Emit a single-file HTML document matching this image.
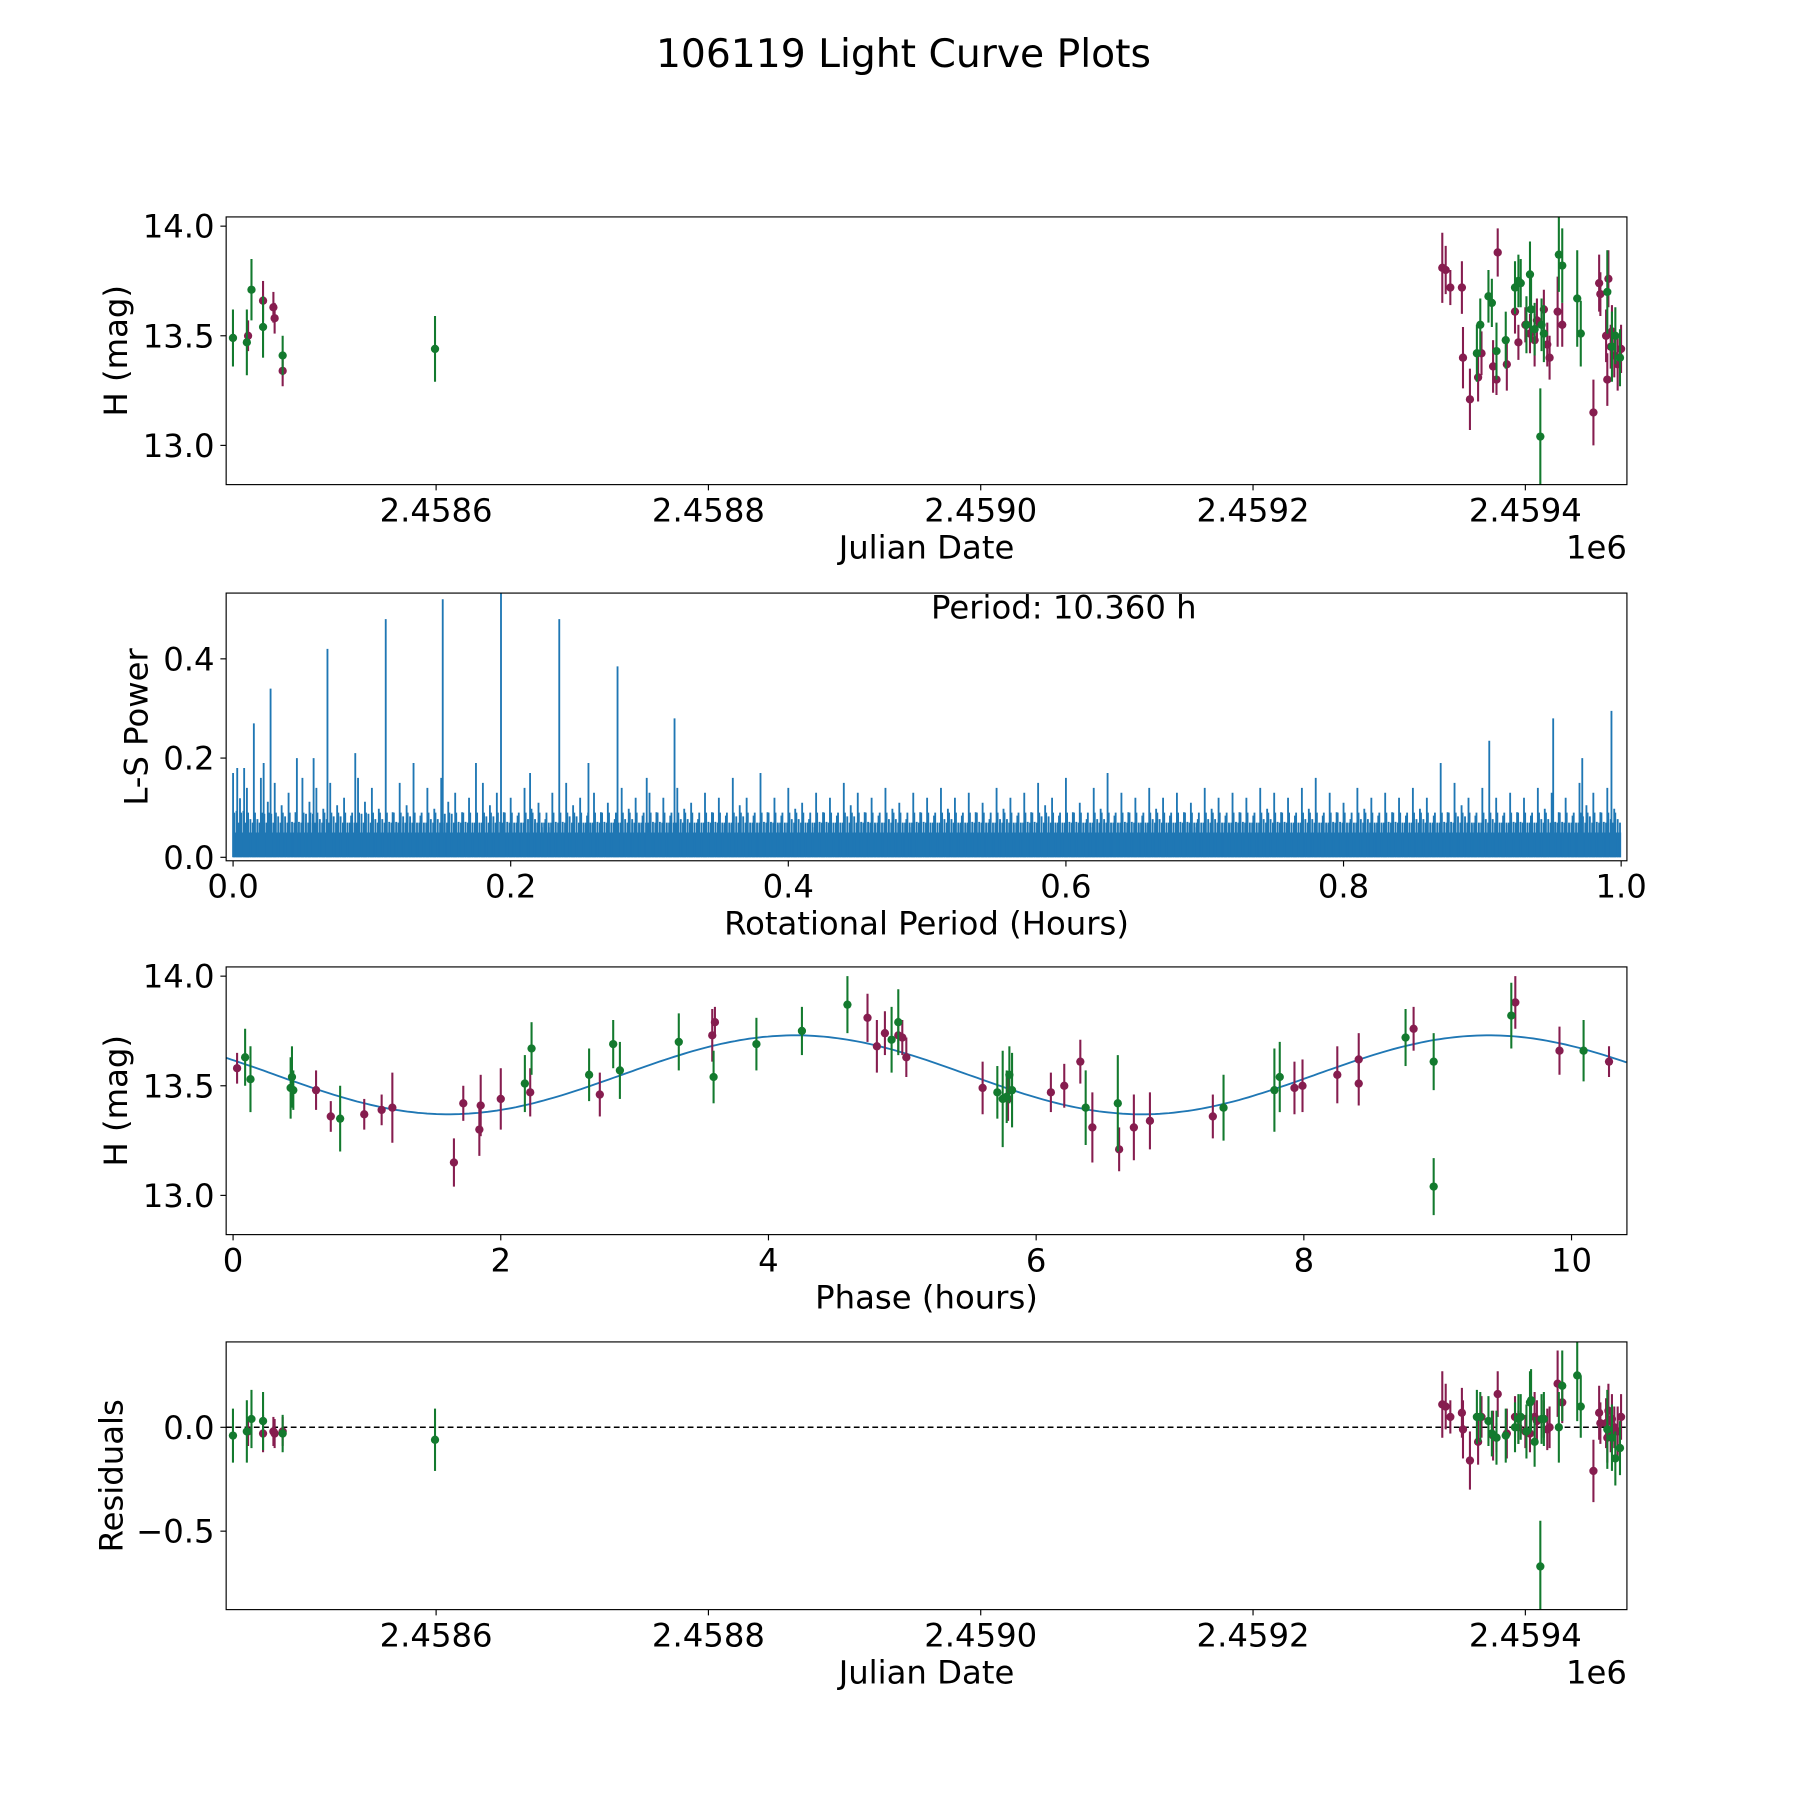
<!DOCTYPE html>
<html><head><meta charset="utf-8"><style>
html,body{margin:0;padding:0;background:#fff}
svg{display:block;font-family:"DejaVu Sans","Liberation Sans",sans-serif}
</style></head><body>
<svg id="c" width="1800" height="1800" viewBox="0 0 1560 1560" xmlns="http://www.w3.org/2000/svg">
<text x="783" y="58" font-size="34" text-anchor="middle">106119 Light Curve Plots</text>
</svg>
<script>
// ---- data (JD offsets from 2458000) ----
const jdPurple=[461.9,472.9,480.5,481.4,487.3,1339,1341.5,1344.9,1353.4,1354.2,1359.3,1365.3,1367.8,1376.3,1378.8,1379.7,1386.4,1392.4,1394.9,1400,1403.4,1406.8,1408.5,1413.6,1416.1,1417.8,1423.7,1427.1,1450,1454.2,1455.1,1459.3,1460.2,1461,1462.7,1463.6,1465.3,1467.8,1470.3];
const magPurple=[13.50,13.66,13.63,13.58,13.34,13.81,13.80,13.72,13.72,13.40,13.21,13.31,13.42,13.36,13.30,13.88,13.37,13.61,13.47,13.55,13.51,13.48,13.57,13.62,13.46,13.40,13.61,13.55,13.15,13.74,13.69,13.50,13.30,13.76,13.45,13.52,13.41,13.37,13.44];
const resPurple=[-0.02,-0.03,-0.02,-0.03,-0.02,0.11,0.10,0.05,0.07,-0.01,-0.16,-0.07,0.05,-0.04,-0.05,0.16,-0.03,0.05,0.00,-0.02,-0.03,0.05,0.03,0.04,-0.01,0.00,0.21,0.12,-0.21,0.07,0.02,0.02,-0.05,0.08,-0.02,0.04,0.00,-0.02,0.05];
const errPurple=[0.07,0.09,0.07,0.07,0.07,0.16,0.11,0.08,0.12,0.14,0.14,0.11,0.10,0.12,0.07,0.11,0.12,0.10,0.08,0.08,0.09,0.12,0.10,0.09,0.10,0.10,0.16,0.10,0.15,0.13,0.10,0.12,0.12,0.13,0.10,0.12,0.10,0.12,0.11];
const jdGreen=[450.8,461.0,464.4,472.9,487.3,599.2,1364.4,1366.9,1372.9,1375.4,1378.8,1385.6,1392.4,1394.9,1396.6,1400.8,1403.4,1404.2,1406.8,1411,1411.9,1413.6,1424.6,1427.1,1438.1,1440.7,1460.2,1463.6,1466.1,1469.5];
const magGreen=[13.49,13.47,13.71,13.54,13.41,13.44,13.42,13.55,13.68,13.65,13.43,13.48,13.72,13.75,13.74,13.55,13.78,13.62,13.53,13.04,13.55,13.51,13.87,13.82,13.67,13.51,13.70,13.45,13.50,13.40];
const resGreen=[-0.04,-0.02,0.04,0.03,-0.03,-0.06,0.05,0.05,0.03,-0.03,-0.05,-0.04,0.00,0.04,0.05,-0.02,0.12,0.13,-0.07,-0.67,0.04,0.04,0.00,0.20,0.25,0.10,-0.01,-0.05,-0.15,-0.10];
const errGreen=[0.13,0.15,0.14,0.14,0.09,0.15,0.13,0.12,0.12,0.11,0.13,0.13,0.12,0.12,0.11,0.13,0.15,0.15,0.12,0.22,0.12,0.13,0.17,0.17,0.22,0.15,0.19,0.16,0.13,0.13];
// phase-folded
const phPurple=[0.03,0.62,0.73,0.98,1.11,1.19,1.65,1.72,1.84,1.85,2.00,2.22,2.74,3.58,3.60,4.74,4.81,4.87,4.97,5.00,5.03,5.60,5.79,6.11,6.21,6.33,6.42,6.62,6.73,6.85,7.32,7.93,7.99,8.25,8.41,8.41,8.82,9.58,9.91,10.28];
const phMagPurple=[13.58,13.48,13.36,13.37,13.39,13.40,13.15,13.42,13.30,13.41,13.44,13.47,13.46,13.73,13.79,13.81,13.68,13.74,13.73,13.72,13.63,13.49,13.44,13.47,13.50,13.61,13.31,13.21,13.31,13.34,13.36,13.49,13.50,13.55,13.51,13.62,13.76,13.88,13.66,13.61];
const phGreen=[0.09,0.13,0.43,0.44,0.45,0.80,2.18,2.23,2.66,2.84,2.89,3.33,3.59,3.91,4.25,4.59,4.92,4.97,5.71,5.75,5.78,5.80,5.82,6.37,6.61,7.40,7.78,7.82,8.76,8.97,8.97,9.55,10.09];
const phMagGreen=[13.63,13.53,13.49,13.54,13.48,13.35,13.51,13.67,13.55,13.69,13.57,13.70,13.54,13.69,13.75,13.87,13.71,13.79,13.47,13.44,13.45,13.55,13.48,13.40,13.42,13.40,13.48,13.54,13.72,13.61,13.04,13.82,13.66];
// periodogram
const peakPeriod=[0.003,0.008,0.015,0.022,0.027,0.046,0.058,0.068,0.088,0.11,0.13,0.151,0.175,0.193,0.214,0.235,0.256,0.277,0.298,0.318,0.36,0.38,0.6,0.63,0.78,0.87,0.905,0.951,0.972,0.993];
const peakPower=[0.18,0.18,0.27,0.19,0.34,0.2,0.2,0.42,0.21,0.48,0.19,0.52,0.19,0.54,0.17,0.48,0.19,0.385,0.16,0.28,0.16,0.17,0.16,0.17,0.16,0.19,0.235,0.28,0.2,0.295];
const bgPower=[0.17,0.14,0.16,0.15,0.13,0.16,0.14,0.15,0.12,0.16,0.14,0.13,0.15,0.12,0.14,0.16,0.13,0.12,0.15,0.13,0.12,0.14,0.11,0.13,0.15,0.12,0.13,0.11,0.14,0.12,0.13,0.12,0.14,0.11,0.13,0.12,0.15,0.12,0.13,0.12,0.14,0.11,0.13,0.12,0.15,0.13,0.12,0.14,0.11,0.13,0.12,0.14,0.12,0.13,0.11,0.14,0.12,0.13,0.15,0.12,0.13,0.11,0.14,0.12,0.13,0.12,0.14,0.12,0.13,0.11,0.14,0.12,0.13,0.12,0.14,0.13,0.12,0.14,0.12,0.13,0.11,0.14,0.12,0.13,0.12,0.14,0.12,0.13,0.15,0.12,0.14,0.12,0.13,0.12,0.14,0.13,0.12,0.15,0.13,0.14];
const jdTicks=[600,800,1000,1200,1400];
const jdTickLabels=["2.4586","2.4588","2.4590","2.4592","2.4594"];
const magTicks=[13.0,13.5,14.0];
const magTickLabels=["13.0","13.5","14.0"];
const powTicks=[0,0.2,0.4];
const powTickLabels=["0.0","0.2","0.4"];
const perTicks=[0,0.2,0.4,0.6,0.8,1.0];
const perTickLabels=["0.0","0.2","0.4","0.6","0.8","1.0"];
const phTicks=[0,2,4,6,8,10];
const phTickLabels=["0","2","4","6","8","10"];
const resTicks=[-0.5,0.0];
const resTickLabels=["\u22120.5","0.0"];
const modelMean=13.55, modelAmp=0.18, modelPeriod=5.18, modelPeak=4.2;

const NS="http://www.w3.org/2000/svg";
const svg=document.getElementById('c');
const PUR="#861d4f", GRN="#137a2e", BLU="#1f77b4";
const L=196,R=1410,FS=28;
function mk(tag,attrs,parent){const e=document.createElementNS(NS,tag);for(const k in attrs)e.setAttribute(k,attrs[k]);(parent||svg).appendChild(e);return e;}
function lin(d0,d1,r0,r1){return v=>r0+(v-d0)*(r1-r0)/(d1-d0);}
function axes(top,bot,sx,sy,xt,xl,yt,yl,xlabel,ylabel,name){
  const g=mk('g',{});
  
  
  xt.forEach((t,i)=>{const x=sx(t);mk('line',{x1:x,x2:x,y1:bot,y2:bot+5,stroke:'#000','stroke-width':1},g);
    const tx=mk('text',{x:x,y:bot+32,'font-size':FS,'text-anchor':'middle'},g);tx.textContent=xl[i];
    
    });
  yt.forEach((t,i)=>{const y=sy(t);mk('line',{x1:L-5,x2:L,y1:y,y2:y,stroke:'#000','stroke-width':1},g);
    const tx=mk('text',{x:L-10,y:y+10,'font-size':FS,'text-anchor':'end'},g);tx.textContent=yl[i];
    
    });
  const xa=mk('text',{x:(L+R)/2,y:bot+64,'font-size':FS,'text-anchor':'middle'},g);xa.textContent=xlabel;
  
  
  const cy=(top+bot)/2;
  const ya=mk('text',{x:0,y:0,'font-size':FS,'text-anchor':'middle',transform:`translate(${ylabel.x},${cy}) rotate(-90)`},g);ya.textContent=ylabel.t;
  
  
  return g;
}
function frame(top,bot){const r=mk('rect',{x:L,y:top,width:R-L,height:bot-top,fill:'none',stroke:'#000','stroke-width':1});
  
  }
function clip(id,top,bot){const d=mk('clipPath',{id:id});mk('rect',{x:L,y:top,width:R-L,height:bot-top},d);}
function errPts(xs,ys,es,sx,sy,col,cp,name){
  const g=mk('g',{'clip-path':`url(#${cp})`});
  
  
  xs.forEach((v,i)=>{const x=sx(v),y=sy(ys[i]),e=es[i%es.length];
    mk('line',{x1:x,x2:x,y1:sy(ys[i]-e),y2:sy(ys[i]+e),stroke:col,'stroke-width':1.8},g);
    const c=mk('circle',{cx:x,cy:y,r:3.6,fill:col},g);
    
    });
}
// Panel 1
{const t=188,b=420,sx=lin(445.8,1474.6,L,R),sy=lin(14.0,13.5,196,291);
 clip('cp1',t,b);
 errPts(jdPurple,magPurple,errPurple,sx,sy,PUR,'cp1','purple-observations');
 errPts(jdGreen,magGreen,errGreen,sx,sy,GRN,'cp1','green-observations');
 frame(t,b);axes(t,b,sx,sy,jdTicks,jdTickLabels,magTicks,magTickLabels,'Julian Date',{x:110,t:'H (mag)'},'light-curve');
 const o=mk('text',{x:R,y:b+64,'font-size':FS,'text-anchor':'end'});o.textContent='1e6';
 
 }
// Panel 2
{const t=514,b=746,sx=lin(0,1,202,1405),sy=lin(0,0.2,743,657);
 clip('cp2',t,b);
 const g=mk('g',{'clip-path':'url(#cp2)'});
 
 
 mk('rect',{x:sx(0),y:sy(0.05),width:sx(1)-sx(0),height:sy(0)-sy(0.05),fill:BLU},g);
 let d='';
 bgPower.forEach((p,i)=>{const base=i/bgPower.length;for(let k=0;k<4;k++){const x=sx(base+k*0.0025);const h=k==0?p:(k==2?p*0.7:p*0.55);d+=`M${x.toFixed(1)},${sy(0)}V${sy(h).toFixed(1)}`;}});
 for(let i=0;i<600;i++){const x=sx(i/600+0.0008);d+=`M${x.toFixed(1)},${sy(0)}V${sy(i%3==0?0.09:0.07).toFixed(1)}`;}
 peakPeriod.forEach((p,i)=>{const x=sx(p);d+=`M${x.toFixed(1)},${sy(0)}V${sy(peakPower[i]).toFixed(1)}`;});
 mk('path',{d:d,stroke:BLU,'stroke-width':1.6,fill:'none'},g);
 frame(t,b);axes(t,b,sx,sy,perTicks,perTickLabels,powTicks,powTickLabels,'Rotational Period (Hours)',{x:128,t:'L-S Power'},'periodogram');
 const pt=mk('text',{x:922,y:536,'font-size':FS,'text-anchor':'middle'});pt.textContent='Period: 10.360 h';
 
 }
// Panel 3
{const t=838,b=1070,sx=lin(0,2,202,434),sy=lin(14.0,13.5,846,941);
 clip('cp3',t,b);
 let d='';for(let i=0;i<=300;i++){const p=-0.05+i*(10.41+0.05)/300;const m=modelMean+modelAmp*Math.cos(2*Math.PI*(p-modelPeak)/modelPeriod);d+=(i?'L':'M')+sx(p).toFixed(1)+','+sy(m).toFixed(1);}
 const ml=mk('path',{d:d,stroke:BLU,'stroke-width':1.6,fill:'none','clip-path':'url(#cp3)'});
 
 
 errPts(phPurple,phMagPurple,errPurple,sx,sy,PUR,'cp3','purple-phased');
 errPts(phGreen,phMagGreen,errGreen,sx,sy,GRN,'cp3','green-phased');
 frame(t,b);axes(t,b,sx,sy,phTicks,phTickLabels,magTicks,magTickLabels,'Phase (hours)',{x:110,t:'H (mag)'},'phase-plot');}
// Panel 4
{const t=1163,b=1395,sx=lin(445.8,1474.6,L,R),sy=lin(0,-0.5,1237,1327);
 clip('cp4',t,b);
 const z=mk('line',{x1:L,x2:R,y1:sy(0),y2:sy(0),stroke:'#000','stroke-width':1.3,'stroke-dasharray':'5,3'});
 
 
 errPts(jdPurple,resPurple,errPurple,sx,sy,PUR,'cp4','purple-residuals');
 errPts(jdGreen,resGreen,errGreen,sx,sy,GRN,'cp4','green-residuals');
 frame(t,b);axes(t,b,sx,sy,jdTicks,jdTickLabels,resTicks,resTickLabels,'Julian Date',{x:106,t:'Residuals'},'residuals');
 const o=mk('text',{x:R,y:b+64,'font-size':FS,'text-anchor':'end'});o.textContent='1e6';
 
 }
</script>
</body></html>
